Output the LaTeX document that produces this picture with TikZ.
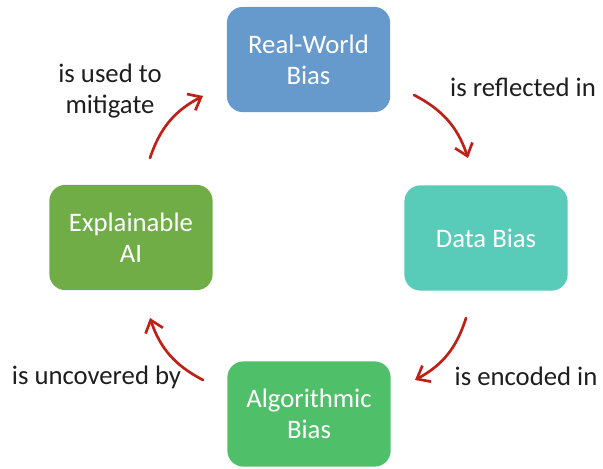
\documentclass[tikz,border=0pt]{standalone}
\usepackage{xcolor}
\usepackage{fontspec}
\setmainfont{Carlito}
\usetikzlibrary{arrows.meta}

\definecolor{realblue}{RGB}{102,153,204}
\definecolor{datateal}{RGB}{88,203,185}
\definecolor{xaigreen}{RGB}{112,173,71}
\definecolor{algogreen}{RGB}{80,191,106}
\definecolor{arrowred}{RGB}{192,32,22}
\definecolor{labelgray}{RGB}{30,30,30}

\begin{document}
\begin{tikzpicture}[x=0.025cm, y=0.025cm,
        biasbox/.style={rounded corners=0.4cm, minimum width=4.08cm, minimum height=2.63cm,
            inner sep=0pt, align=center, text=white, font=\fontsize{19}{22}\selectfont},
        relation/.style={text=labelgray, align=center, inner sep=0pt, font=\fontsize{19}{22.5}\selectfont},
        cyclearrow/.style={draw=arrowred, line width=1.9pt, line cap=round,
            -{Straight Barb[length=8pt, width=13pt, line width=1.9pt]}, bend left=22}]
        \useasboundingbox (0,0) rectangle (603,468);

        \node[biasbox, fill=realblue] (real) at (308.5,408.5) {Real-World\\Bias};
        \node[biasbox, fill=datateal] (data) at (486,230) {Data Bias};
        \node[biasbox, fill=algogreen] (algo) at (309,54) {Algorithmic\\Bias};
        \node[biasbox, fill=xaigreen] (xai) at (131,230.5) {Explainable\\AI};

        \coordinate (r1) at (414,373);
        \coordinate (r2) at (468,310);
        \coordinate (e1) at (466,150);
        \coordinate (e2) at (415,88);
        \coordinate (u1) at (203,88);
        \coordinate (u2) at (150,150);
        \coordinate (m1) at (150,310);
        \coordinate (m2) at (203,372);

        \draw[cyclearrow] (r1) to (r2);
        \draw[cyclearrow] (e1) to (e2);
        \draw[cyclearrow] (u1) to (u2);
        \draw[cyclearrow] (m1) to (m2);

        \node[relation] (reflected) at (523,381) {is reflected in};
        \node[relation] (encoded) at (526,92) {is encoded in};
        \node[relation] (uncovered) at (96.5,91) {is uncovered by};
        \node[relation] (mitigate) at (110,377) {is used to\\mitigate};
\end{tikzpicture}
\end{document}
